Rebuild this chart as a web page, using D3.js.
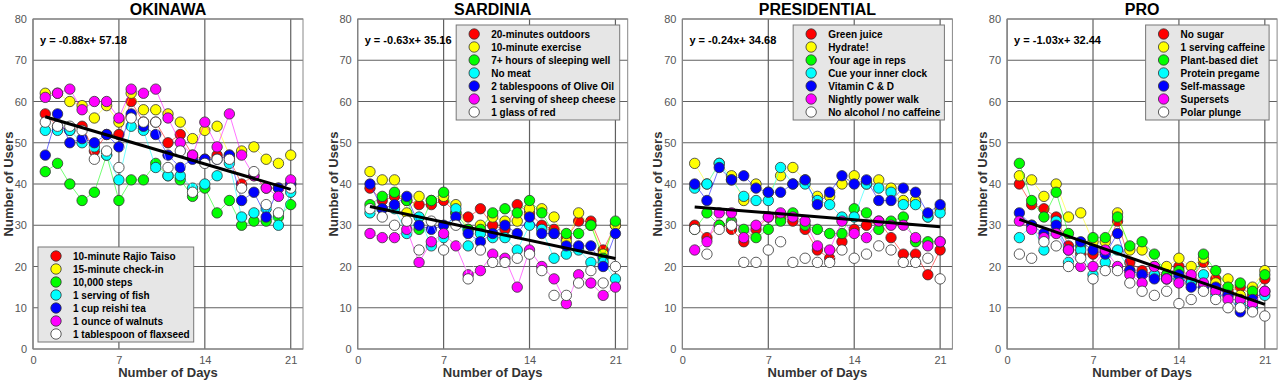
<!DOCTYPE html>
<html>
<head>
<meta charset="utf-8">
<script src="https://cdn.jsdelivr.net/npm/d3@7"></script>
<style>
  body { margin: 0; background: #fff; }
  text { font-family: Arial, "Liberation Sans", sans-serif; }
</style>
</head>
<body>
<div id="chart"></div>
<script>
/* tick labels and shared categories */
var days = d3.range(1, 22);
var xTicks = [0, 7, 14, 21];
var yTicks = [0, 10, 20, 30, 40, 50, 60, 70, 80];
var titles = ["OKINAWA", "SARDINIA", "PRESIDENTIAL", "PRO"];

/* trend lines: y = slope*x + intercept */
var slopes = [-0.88, -0.63, -0.24, -1.03];
var intercepts = [57.18, 35.16, 34.68, 32.44];

/* legend labels per panel */
var okinawaLabels = ["10-minute Rajio Taiso", "15-minute check-in", "10,000 steps", "1 serving of fish",
  "1 cup reishi tea", "1 ounce of walnuts", "1 tablespoon of flaxseed"];
var sardiniaLabels = ["20-minutes outdoors", "10-minute exercise", "7+ hours of sleeping well", "No meat",
  "2 tablespoons of Olive Oil", "1 serving of sheep cheese", "1 glass of red"];
var presidentialLabels = ["Green juice", "Hydrate!", "Your age in reps", "Cue your inner clock",
  "Vitamin C & D", "Nightly power walk", "No alcohol / no caffeine"];
var proLabels = ["No sugar", "1 serving caffeine", "Plant-based diet", "Protein pregame",
  "Self-massage", "Supersets", "Polar plunge"];

/* users per day, one row per habit (same order as the labels) */
var okinawaValues = [
  [57,54,53,54,48,52,52,60,55,55,50,52,47,46,47,46,40,42,39,39,40],
  [62,62,60,59,56,59,55,62,58,58,57,55,51,53,54,47,48,49,46,45,47],
  [43,45,40,36,38,47,36,41,41,45,42,41,37,39,33,36,30,31,31,32,35],
  [53,53,53,50,49,47,41,54,53,44,42,42,39,40,42,45,32,33,34,30,38],
  [47,57,50,51,50,52,49,57,54,52,47,44,46,46,46,47,36,38,32,39,40],
  [61,62,63,58,60,60,56,63,62,63,56,50,47,55,49,57,47,42,39,37,41],
  [55,54,54,53,46,48,44,56,55,55,44,48,38,45,46,46,39,43,35,33,39]
];
var sardiniaValues = [
  [39,36,37,36,35,35,36,33,32,34,30,29,35,33,30,29,27,31,31,24,30],
  [43,41,41,33,37,36,37,35,29,30,32,31,31,34,34,32,26,33,30,23,30],
  [35,37,38,36,29,36,38,33,29,29,33,34,33,36,33,28,28,28,30,22,31],
  [33,34,34,28,32,25,27,34,25,28,27,27,24,30,29,22,23,24,21,21,17],
  [40,34,35,37,30,29,30,32,28,26,28,30,28,32,28,28,25,25,25,20,28],
  [28,27,27,29,21,26,28,25,18,19,23,22,15,24,20,17,11,18,16,13,15],
  [34,32,30,31,24,31,24,30,17,24,21,21,22,23,19,13,13,16,19,16,20]
];
var presidentialValues = [
  [30,27,30,29,26,29,32,32,31,29,24,22,26,29,30,31,27,23,23,18,24],
  [45,40,45,42,36,40,38,42,44,41,37,37,40,42,40,41,39,36,36,32,34],
  [29,33,30,31,29,27,29,31,33,30,29,28,28,34,33,29,31,32,26,26,26],
  [39,40,45,41,37,36,36,44,40,40,36,35,32,32,40,39,38,35,35,32,33],
  [40,36,44,41,42,39,38,38,40,41,35,38,42,40,41,36,36,39,38,33,35],
  [24,26,33,33,27,30,32,33,32,31,25,24,31,28,27,31,30,30,27,25,26],
  [29,23,29,30,21,21,24,26,21,22,21,21,24,22,23,25,24,21,21,22,17]
];
var proValues = [
  [40,35,34,32,25,23,23,24,31,21,19,18,18,20,17,21,17,14,15,13,17],
  [42,41,37,40,32,33,26,26,33,24,24,20,20,22,20,22,16,17,13,15,19],
  [45,36,32,38,28,25,27,27,32,25,26,23,18,19,16,23,19,15,16,14,18],
  [27,30,24,31,21,24,18,21,24,19,18,18,17,17,16,18,13,13,11,10,13],
  [33,30,28,30,24,26,24,23,28,19,18,17,17,18,15,15,15,13,9,12,14],
  [31,29,27,28,24,20,20,24,20,18,16,20,17,16,18,16,14,12,12,11,14],
  [23,22,26,25,20,22,17,19,19,16,14,13,14,11,12,14,12,10,10,9,8]
];

var panelValues = [okinawaValues, sardiniaValues, presidentialValues, proValues];
var panelLabels = [okinawaLabels, sardiniaLabels, presidentialLabels, proLabels];

var colors = ["#ff0000", "#ffff00", "#00ff00", "#00ffff", "#0000ff", "#ff00ff", "#ffffff"];

var canvasWidth = 1280;
var canvasHeight = 385;
var plotTop = 19;
var plotW = 270;
var plotH = 330;
var plotLeft0 = 33;
var panelStep = 324.7;

var svg = d3.select("#chart").append("svg")
    .attr("width", canvasWidth)
    .attr("height", canvasHeight);

titles.forEach(function (title, i) {
  var left = plotLeft0 + i * panelStep;
  var g = svg.append("g").attr("transform", "translate(" + left + "," + plotTop + ")");

  var x = d3.scaleLinear().domain([0, 22]).range([0, plotW]);
  var y = d3.scaleLinear().domain([0, 80]).range([plotH, 0]);

  /*plot background*/
  g.append("rect")
      .attr("width", plotW).attr("height", plotH)
      .attr("fill", "#fff");

  /*grid lines*/
  g.append("g").selectAll("line").data(xTicks).join("line")
      .attr("x1", d => x(d)).attr("x2", d => x(d))
      .attr("y1", 0).attr("y2", plotH)
      .attr("stroke", "#606060").attr("stroke-width", 1.2);
  g.append("g").selectAll("line").data(yTicks).join("line")
      .attr("x1", 0).attr("x2", plotW)
      .attr("y1", d => y(d)).attr("y2", d => y(d))
      .attr("stroke", "#606060").attr("stroke-width", 1.2);

  /*frame*/
  g.append("rect")
      .attr("width", plotW).attr("height", plotH)
      .attr("fill", "none").attr("stroke", "#888").attr("stroke-width", 1);

  /*axes labels*/
  var xAxis = g.append("g")
      .attr("transform", "translate(0," + plotH + ")")
      .call(d3.axisBottom(x).tickValues(xTicks).tickSize(0).tickPadding(7));
  var yAxis = g.append("g")
      .call(d3.axisLeft(y).tickValues(yTicks).tickSize(0).tickPadding(6));
  [xAxis, yAxis].forEach(function (a) {
    a.select(".domain").remove();
    a.selectAll("text")
        .attr("font-family", "Arial, 'Liberation Sans', sans-serif")
        .attr("font-size", 11).attr("fill", "#555");
  });

  /*series lines and markers*/
  var line = d3.line().x((d, j) => x(days[j])).y(d => y(d));
  panelValues[i].forEach(function (vals, s) {
    g.append("path")
        .attr("d", line(vals))
        .attr("fill", "none")
        .attr("stroke", colors[s])
        .attr("stroke-opacity", 0.55)
        .attr("stroke-width", 1);
    g.append("g").selectAll("circle").data(vals).join("circle")
        .attr("cx", (d, j) => x(days[j]))
        .attr("cy", d => y(d))
        .attr("r", 5.2)
        .attr("fill", colors[s])
        .attr("stroke", "#333")
        .attr("stroke-width", 0.8);
  });

  /*trend line*/
  var trend = [1, 21];
  g.append("path")
      .attr("d", d3.line().x(d => x(d)).y(d => y(slopes[i] * d + intercepts[i]))(trend))
      .attr("fill", "none")
      .attr("stroke", "#000")
      .attr("stroke-width", 3);

  g.append("text")
      .attr("x", 7).attr("y", 25)
      .attr("font-size", 11).attr("font-weight", "bold").attr("fill", "#000")
      .text("y = " + slopes[i].toFixed(2) + "x+ " + intercepts[i].toFixed(2));

  /*legend*/
  var lg = g.append("g");
  var box = lg.append("rect").attr("fill", "#e6e6e6").attr("stroke", "#777").attr("stroke-width", 1);
  var rowH = 13;
  var texts = lg.selectAll("text").data(panelLabels[i]).join("text")
      .attr("x", 35).attr("y", (d, k) => 9 + k * rowH + 3.6)
      .attr("font-size", 10).attr("font-weight", "bold").attr("fill", "#000")
      .text(d => d);
  lg.selectAll("circle").data(panelLabels[i]).join("circle")
      .attr("cx", 18).attr("cy", (d, k) => 9 + k * rowH)
      .attr("r", 5.2)
      .attr("fill", (d, k) => colors[k])
      .attr("stroke", "#333").attr("stroke-width", 0.8);
  var maxW = d3.max(texts.nodes(), n => n.getComputedTextLength());
  var lw = 35 + maxW + 4;
  var lh = 6 * rowH + 17;
  box.attr("width", lw).attr("height", lh);
  if (i === 0) {
    lg.attr("transform", "translate(5," + (plotH - 7 - lh) + ")");
  } else {
    lg.attr("transform", "translate(" + (plotW - 8 - lw) + ",6)");
  }

  /*titles*/
  svg.append("text")
      .attr("x", left + plotW / 2).attr("y", 15)
      .attr("text-anchor", "middle")
      .attr("font-size", 16).attr("font-weight", "bold").attr("fill", "#000")
      .text(title);
  svg.append("text")
      .attr("x", left + plotW / 2).attr("y", 377)
      .attr("text-anchor", "middle")
      .attr("font-size", 13).attr("font-weight", "bold").attr("fill", "#333")
      .text("Number of Days");
  svg.append("text")
      .attr("transform", "translate(" + (left - 20) + "," + (plotTop + plotH / 2) + ") rotate(-90)")
      .attr("text-anchor", "middle")
      .attr("font-size", 13).attr("font-weight", "bold").attr("fill", "#333")
      .text("Number of Users");
});
</script>
</body>
</html>
